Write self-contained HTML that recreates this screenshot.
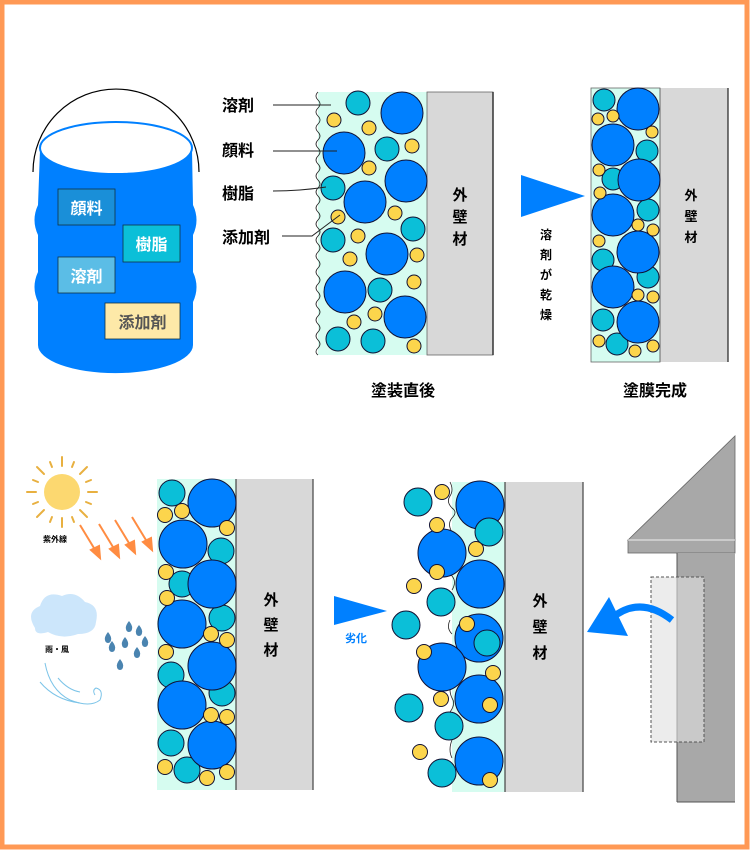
<!DOCTYPE html>
<html><head><meta charset="utf-8"><style>
html,body{margin:0;padding:0;background:#fff}
svg{display:block}
text{font-family:"Liberation Sans","Noto Sans CJK JP",sans-serif;font-weight:bold}
</style></head><body>
<svg width="750" height="850" viewBox="0 0 750 850" xmlns="http://www.w3.org/2000/svg">
<rect x="2" y="2" width="745" height="845" fill="#fff" stroke="#ff9955" stroke-width="5"/>
<defs>
<path id="drop" d="M0,-5 Q4,0 3,3 A3,3 0 0 1 -3,3 Q-4,0 0,-5Z" fill="#4a84b0"/>
</defs>
<!-- bucket -->
<path d="M33,172 A83,83 0 0 1 199,172" fill="none" stroke="#000" stroke-width="1.2"/>
<path d="M40,150 L192,150 L193,205 Q200,220 193,235 L193,272 Q200,287 193,302 L193,345 A77,28 0 0 1 38,345 L38,302 Q31,287 38,272 L38,235 Q31,220 38,205 Z" fill="#0080ff"/>
<ellipse cx="116" cy="148" rx="76" ry="26" fill="#fff" stroke="#0080ff" stroke-width="2"/>
<rect x="58" y="189" width="57" height="36" fill="#1a8fd8" stroke="#134" stroke-width="0.8"/>
<text x="86.5" y="214" font-size="16" fill="#fff" text-anchor="middle">顔料</text>
<rect x="123" y="225" width="57" height="37" fill="#0bbfd8" stroke="#134" stroke-width="0.8"/>
<text x="151.5" y="250" font-size="16" fill="#fff" text-anchor="middle">樹脂</text>
<rect x="58" y="257" width="57" height="36" fill="#5bbde6" stroke="#134" stroke-width="0.8"/>
<text x="86.5" y="282" font-size="16" fill="#fff" text-anchor="middle">溶剤</text>
<rect x="105" y="303" width="75" height="36" fill="#fde9a8" stroke="#134" stroke-width="0.8"/>
<text x="142.5" y="328" font-size="16" fill="#555" text-anchor="middle">添加剤</text>

<!-- section 1 -->
<text x="222" y="111" font-size="16" fill="#000">溶剤</text>
<text x="222" y="156" font-size="16" fill="#000">顔料</text>
<text x="222" y="199" font-size="16" fill="#000">樹脂</text>
<text x="222" y="243" font-size="16" fill="#000">添加剤</text>
<rect x="318" y="92" width="109" height="263" fill="#d6fcf0"/>
<path d="M318,92 q-4,4 0,8 q4,4 0,8 q-4,4 0,8 q4,4 0,8 q-4,4 0,8 q4,4 0,8 q-4,4 0,8 q4,4 0,8 q-4,4 0,8 q4,4 0,8 q-4,4 0,8 q4,4 0,8 q-4,4 0,8 q4,4 0,8 q-4,4 0,8 q4,4 0,8 q-4,4 0,8 q4,4 0,8 q-4,4 0,8 q4,4 0,8 q-4,4 0,8 q4,4 0,8 q-4,4 0,8 q4,4 0,8 q-4,4 0,8 q4,4 0,8 q-4,4 0,8 q4,4 0,8 q-4,4 0,8 q4,4 0,8 q-4,4 0,8 q4,4 0,8 q-4,4 0,7" fill="none" stroke="#222" stroke-width="0.8"/>
<rect x="427" y="92" width="66" height="263" fill="#d8d8d8" stroke="#666" stroke-width="0.8"/>
<line x1="493" y1="92" x2="493" y2="355" stroke="#333" stroke-width="1.5"/>
<text x="460" y="200" font-size="15" text-anchor="middle" fill="#000">外</text>
<text x="460" y="222" font-size="15" text-anchor="middle" fill="#000">壁</text>
<text x="460" y="244" font-size="15" text-anchor="middle" fill="#000">材</text>
<g stroke="#113" stroke-width="1">
<g fill="#0080ff"><circle cx="402" cy="113" r="21"/><circle cx="344" cy="153" r="21"/><circle cx="406" cy="181" r="21"/><circle cx="365" cy="202" r="21"/><circle cx="387" cy="254" r="21"/><circle cx="345" cy="292" r="21"/><circle cx="405" cy="317" r="21"/></g>
<g fill="#0bbfd8"><circle cx="358" cy="103" r="12"/><circle cx="387" cy="149" r="12"/><circle cx="333" cy="188" r="12"/><circle cx="413" cy="229" r="12"/><circle cx="333" cy="240" r="12"/><circle cx="380" cy="290" r="12"/><circle cx="338" cy="339" r="12"/><circle cx="373" cy="341" r="12"/></g>
<g fill="#fcd54c"><circle cx="334" cy="120" r="7"/><circle cx="369" cy="128" r="7"/><circle cx="412" cy="146" r="7"/><circle cx="369" cy="168" r="7"/><circle cx="395" cy="213" r="7"/><circle cx="338" cy="217" r="7"/><circle cx="358" cy="236" r="7"/><circle cx="350" cy="259" r="7"/><circle cx="417" cy="255" r="7"/><circle cx="414" cy="282" r="7"/><circle cx="375" cy="314" r="7"/><circle cx="354" cy="322" r="7"/><circle cx="414" cy="346" r="7"/></g>
</g>
<g fill="none" stroke="#222" stroke-width="1">
<path d="M273,105 L331,105"/><path d="M273,151 L337,151"/><path d="M273,191 Q300,191 326,187"/><path d="M282,236 L312,236 L340,215"/>
</g>
<text x="403" y="396" font-size="16" text-anchor="middle" fill="#000">塗装直後</text>

<!-- section 2 -->
<polygon points="521,175 585,196 521,217" fill="#0080ff"/>
<g font-size="12" fill="#000" text-anchor="middle">
<text x="546" y="239">溶</text><text x="546" y="259">剤</text><text x="546" y="279">が</text><text x="546" y="299">乾</text><text x="546" y="319">燥</text></g>
<rect x="591" y="88" width="69" height="274" fill="#d6fcf0" stroke="#666" stroke-width="0.8"/>
<rect x="660" y="88" width="68" height="274" fill="#d8d8d8"/>
<line x1="728" y1="88" x2="728" y2="362" stroke="#222" stroke-width="1.2"/>
<line x1="660" y1="88" x2="660" y2="362" stroke="#666" stroke-width="1"/>
<text x="691" y="200" font-size="13" text-anchor="middle">外</text><text x="691" y="221" font-size="13" text-anchor="middle">壁</text><text x="691" y="242" font-size="13" text-anchor="middle">材</text>
<g stroke="#113" stroke-width="1">
<g fill="#0bbfd8"><circle cx="604" cy="100" r="11"/><circle cx="647" cy="151" r="11"/><circle cx="613" cy="179" r="11"/><circle cx="648" cy="210" r="11"/><circle cx="603" cy="260" r="11"/><circle cx="648" cy="277" r="11"/><circle cx="603" cy="320" r="11"/><circle cx="617" cy="344" r="11"/></g>
<g fill="#0080ff"><circle cx="638" cy="109" r="21"/><circle cx="613" cy="145" r="21"/><circle cx="639" cy="180" r="21"/><circle cx="613" cy="215" r="21"/><circle cx="638" cy="252" r="21"/><circle cx="613" cy="287" r="21"/><circle cx="638" cy="322" r="21"/></g>
<g fill="#fcd54c"><circle cx="598" cy="119" r="6"/><circle cx="613" cy="116" r="6"/><circle cx="652" cy="132" r="6"/><circle cx="599" cy="170" r="6"/><circle cx="600" cy="193" r="6"/><circle cx="638" cy="225" r="6"/><circle cx="653" cy="230" r="6"/><circle cx="599" cy="241" r="6"/><circle cx="638" cy="295" r="6"/><circle cx="653" cy="297" r="6"/><circle cx="599" cy="341" r="6"/><circle cx="635" cy="351" r="6"/><circle cx="653" cy="346" r="6"/></g>
</g>
<text x="655" y="396" font-size="16" text-anchor="middle" fill="#000">塗膜完成</text>

<!-- section 3 weather -->
<g stroke="#e8b040" stroke-width="2" stroke-linecap="round">
<line x1="62" y1="457" x2="62" y2="466"/><line x1="62" y1="518" x2="62" y2="527"/><line x1="27" y1="492" x2="36" y2="492"/><line x1="88" y1="492" x2="97" y2="492"/>
<line x1="37" y1="467" x2="44" y2="474"/><line x1="80" y1="510" x2="87" y2="517"/><line x1="87" y1="467" x2="80" y2="474"/><line x1="44" y1="510" x2="37" y2="517"/>
<line x1="50" y1="462" x2="52" y2="467"/><line x1="74" y1="462" x2="72" y2="467"/><line x1="50" y1="522" x2="52" y2="517"/><line x1="74" y1="522" x2="72" y2="517"/>
<line x1="33" y1="480" x2="38" y2="482"/><line x1="33" y1="504" x2="38" y2="502"/><line x1="91" y1="480" x2="86" y2="482"/><line x1="91" y1="504" x2="86" y2="502"/>
</g>
<circle cx="62" cy="492" r="18" fill="#fcd870"/>
<text x="55" y="542" font-size="8" text-anchor="middle">紫外線</text>
<g stroke="#ff8c42" stroke-width="2" fill="#ff8c42">
<line x1="80" y1="525" x2="97" y2="553"/><polygon points="100,558 91,550 99,546"/>
<line x1="99" y1="524" x2="116" y2="552"/><polygon points="119,557 110,549 118,545"/>
<line x1="115" y1="520" x2="132" y2="548"/><polygon points="135,553 126,545 134,541"/>
<line x1="132" y1="517" x2="149" y2="545"/><polygon points="152,550 143,542 151,538"/>
</g>
<path d="M35,628 Q25,612 40,606 Q45,590 62,596 Q75,590 85,602 Q100,605 96,622 Q95,634 78,634 Q62,640 48,632 Q35,636 35,628 Z" fill="#cce6fb"/>
<text x="57" y="652" font-size="8" text-anchor="middle">雨・風</text>
<use href="#drop" x="129" y="626"/><use href="#drop" x="139" y="630"/><use href="#drop" x="145" y="641"/>
<use href="#drop" x="112" y="646"/><use href="#drop" x="125" y="642"/><use href="#drop" x="137" y="652"/>
<use href="#drop" x="120" y="664"/><use href="#drop" x="108" y="637"/>
<g fill="none" stroke="#7cc4e8" stroke-width="1">
<path d="M45,663 Q50,690 70,700 Q90,708 100,700 Q104,690 96,688 Q92,690 95,695"/>
<path d="M40,682 Q55,700 80,703"/><path d="M58,678 Q68,690 80,692"/>
</g>
<rect x="157" y="479" width="79" height="311" fill="#d6fcf0"/>
<rect x="236" y="479" width="77" height="311" fill="#d8d8d8"/>
<line x1="236" y1="479" x2="236" y2="790" stroke="#444" stroke-width="1.2"/>
<line x1="313" y1="479" x2="313" y2="790" stroke="#444" stroke-width="1.2"/>
<text x="271" y="605" font-size="15" text-anchor="middle">外</text><text x="271" y="630" font-size="15" text-anchor="middle">壁</text><text x="271" y="655" font-size="15" text-anchor="middle">材</text>
<g stroke="#113" stroke-width="1">
<g fill="#0bbfd8"><circle cx="172" cy="493" r="13"/><circle cx="221" cy="551" r="13"/><circle cx="182" cy="584" r="13"/><circle cx="222" cy="618" r="13"/><circle cx="171" cy="675" r="13"/><circle cx="222" cy="693" r="13"/><circle cx="171" cy="743" r="13"/><circle cx="187" cy="770" r="13"/></g>
<g fill="#0080ff"><circle cx="212" cy="503" r="24"/><circle cx="183" cy="544" r="24"/><circle cx="212" cy="584" r="24"/><circle cx="182" cy="624" r="24"/><circle cx="212" cy="666" r="24"/><circle cx="182" cy="705" r="24"/><circle cx="212" cy="745" r="24"/></g>
<g fill="#fcd54c"><circle cx="165" cy="515" r="7.5"/><circle cx="182" cy="511" r="7.5"/><circle cx="227" cy="528" r="7.5"/><circle cx="166" cy="572" r="7.5"/><circle cx="167" cy="598" r="7.5"/><circle cx="211" cy="634" r="7.5"/><circle cx="227" cy="640" r="7.5"/><circle cx="166" cy="652" r="7.5"/><circle cx="211" cy="715" r="7.5"/><circle cx="227" cy="717" r="7.5"/><circle cx="165" cy="767" r="7.5"/><circle cx="207" cy="778" r="7.5"/><circle cx="227" cy="772" r="7.5"/></g>
</g>
<polygon points="334,596 387,611 334,625" fill="#0080ff"/>
<text x="356" y="642" font-size="11" text-anchor="middle" fill="#0080ff">劣化</text>

<!-- section 4 -->
<rect x="452" y="482" width="53" height="310" fill="#d6fcf0"/>
<path d="M450,482 q4,8 0,14 q-4,6 2,12 q6,4 0,10 q-5,6 0,14 M452,560 q-5,10 0,16 q5,6 0,14 M450,620 q-4,8 2,14 M452,680 q-4,10 0,18 q4,6 -2,14 M452,740 q-4,10 0,18" fill="none" stroke="#222" stroke-width="0.8"/>
<rect x="505" y="482" width="78" height="310" fill="#d8d8d8"/>
<line x1="505" y1="482" x2="505" y2="792" stroke="#444" stroke-width="1.2"/>
<line x1="583" y1="482" x2="583" y2="792" stroke="#444" stroke-width="1.2"/>
<text x="540" y="606" font-size="15" text-anchor="middle">外</text><text x="540" y="632" font-size="15" text-anchor="middle">壁</text><text x="540" y="658" font-size="15" text-anchor="middle">材</text>
<g stroke="#113" stroke-width="1">
<g fill="#0080ff"><circle cx="480" cy="505" r="24"/><circle cx="442" cy="553" r="24"/><circle cx="480" cy="584" r="24"/><circle cx="479" cy="638" r="24"/><circle cx="442" cy="667" r="24"/><circle cx="479" cy="699" r="24"/><circle cx="479" cy="761" r="24"/></g>
<g fill="#0bbfd8"><circle cx="418" cy="502" r="14"/><circle cx="489" cy="532" r="14"/><circle cx="441" cy="602" r="14"/><circle cx="406" cy="625" r="14"/><circle cx="487" cy="643" r="13"/><circle cx="409" cy="708" r="14"/><circle cx="449" cy="726" r="14"/><circle cx="442" cy="773" r="14"/></g>
<g fill="#fcd54c"><circle cx="442" cy="492" r="7.5"/><circle cx="437" cy="525" r="7.5"/><circle cx="476" cy="549" r="7.5"/><circle cx="437" cy="572" r="7.5"/><circle cx="414" cy="586" r="7.5"/><circle cx="467" cy="624" r="7.5"/><circle cx="424" cy="652" r="7.5"/><circle cx="493" cy="673" r="7.5"/><circle cx="490" cy="705" r="7.5"/><circle cx="441" cy="699" r="7.5"/><circle cx="420" cy="752" r="7.5"/><circle cx="490" cy="780" r="7.5"/></g>
</g>
<!-- house -->
<polygon points="628,540 735,436 735,540" fill="#a8a8a8" stroke="#666" stroke-width="0.8"/>
<rect x="628" y="540" width="107" height="13" fill="#a8a8a8" stroke="#666" stroke-width="0.8"/>
<line x1="628" y1="540" x2="735" y2="540" stroke="#eee" stroke-width="1"/>
<rect x="677" y="553" width="58" height="249" fill="#a8a8a8"/>
<line x1="677" y1="553" x2="677" y2="802" stroke="#555" stroke-width="1"/>
<line x1="677" y1="802" x2="735" y2="802" stroke="#555" stroke-width="1"/>
<rect x="651" y="577" width="53" height="165" fill="#e0e0e0" fill-opacity="0.6" stroke="#555" stroke-width="1" stroke-dasharray="3,2"/>
<path d="M672,620 Q640,595 612,618 L607,613" fill="none" stroke="#0080ff" stroke-width="7"/>
<polygon points="587,632 609,597 628,636" fill="#0080ff"/>
</svg>
</body></html>
